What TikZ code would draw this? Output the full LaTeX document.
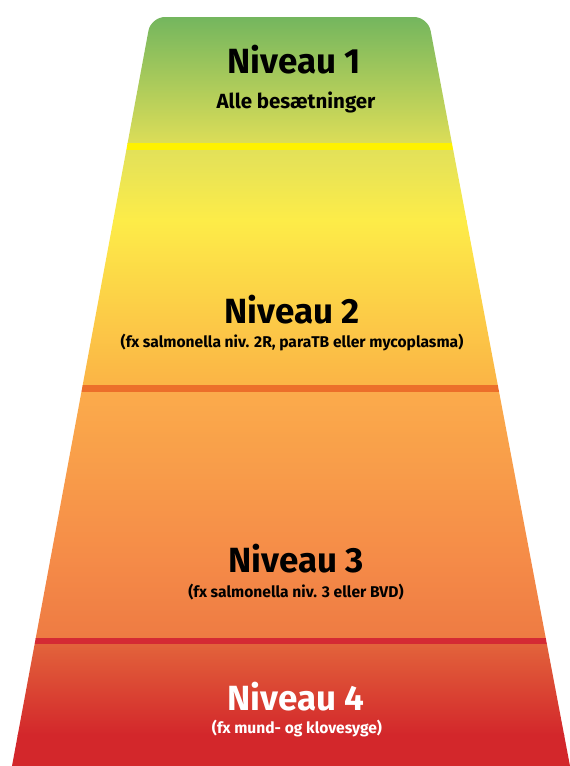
\documentclass[tikz,border=0pt]{standalone}
\usepackage{fontspec}
\setmainfont{Fira Sans}
\usepackage{xcolor}
\usetikzlibrary{calc}
\usetikzlibrary{positioning}

\definecolor{topgreen}{HTML}{74B65E}
\definecolor{limey}{HTML}{DCDD58}
\definecolor{paleyel}{HTML}{E2E15A}
\definecolor{brightyel}{HTML}{FDEC48}
\definecolor{amber}{HTML}{FBB446}
\definecolor{lightor}{HTML}{FBAB4B}
\definecolor{midor}{HTML}{F58B48}
\definecolor{deepor}{HTML}{EE7B43}
\definecolor{redtop}{HTML}{E2633B}
\definecolor{redbot}{HTML}{D3272B}
\definecolor{lineyel}{HTML}{FFF200}
\definecolor{lineor}{HTML}{EC6F2A}
\definecolor{linered}{HTML}{D42A34}

\tikzset{
  lvltitle/.style={font=\fontsize{35}{35}\selectfont\bfseries, anchor=base, inner sep=0pt},
  lvlsub/.style={font=\fontsize{15.6}{15.6}\selectfont\bfseries, anchor=base, inner sep=0pt},
}

\begin{document}
\begin{tikzpicture}[x=1pt, y=-1pt]
\useasboundingbox (0,0) rectangle (570,766);
\begin{scope}
\clip (12,766) [rounded corners=14pt] -- (151,17) -- (428,17) [sharp corners] -- (570,766) -- cycle;
% bands
\shade [top color=topgreen, bottom color=limey] (0,17) rectangle (570,143);
\shade [top color=paleyel, bottom color=brightyel] (0,150) rectangle (570,221);
\shade [top color=brightyel, bottom color=amber] (0,220) rectangle (570,385);
\shade [top color=lightor, bottom color=midor] (0,392) rectangle (570,560);
\shade [top color=midor, bottom color=deepor] (0,559) rectangle (570,638);
\shade [top color=redtop, bottom color=redbot] (0,644) rectangle (570,735);
\fill [redbot] (0,734) rectangle (570,766);
% dividers
\fill [lineyel] (0,143) rectangle (570,150);
\fill [lineor] (0,385) rectangle (570,392);
\fill [linered] (0,638) rectangle (570,644);
\end{scope}
\node [lvltitle] (T1) at (294,73) {Niveau 1};
\node [lvlsub, font=\fontsize{20.5}{20.5}\selectfont\bfseries] (S1) at (296,108) {Alle besætninger};
\node [lvltitle] (T2) at (292,323) {Niveau 2};
\node [lvlsub] (S2) at (292,347) {(fx salmonella niv. 2R, paraTB eller mycoplasma)};
\node [lvltitle] (T3) at (296,572) {Niveau 3};
\node [lvlsub] (S3) at (296,597) {(fx salmonella niv. 3 eller BVD)};
\node [lvltitle, text=white] (T4) at (296,710) {Niveau 4};
\node [lvlsub, text=white] (S4) at (297,733) {(fx mund- og klovesyge)};
\end{tikzpicture}
\end{document}
